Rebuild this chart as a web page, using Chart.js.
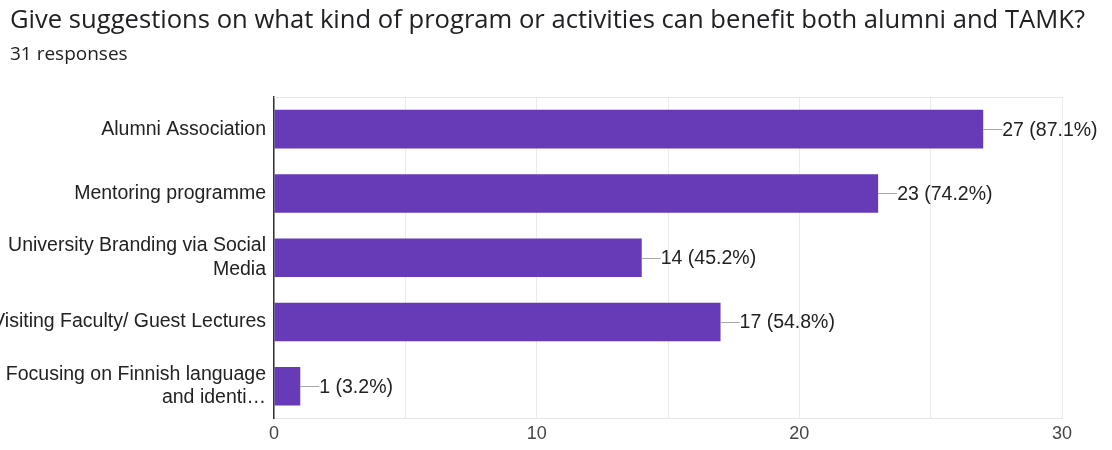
<!DOCTYPE html>
<html>
<head>
<meta charset="utf-8">
<script src="https://cdn.jsdelivr.net/npm/chart.js@4"></script>
<style>
  html, body { margin: 0; padding: 0; background: #fff; }
  #wrap { width: 1112px; height: 450px; }
</style>
</head>
<body>
<div id="wrap"><canvas id="chart"></canvas></div>
<script>
const titleText = 'Give suggestions on what kind of program or activities can benefit both alumni and TAMK?';
const subtitleText = '31 responses';
const categories = [
    'Alumni Association',
    'Mentoring programme',
    ['University Branding via Social', 'Media'],
    'Visiting Faculty/ Guest Lectures',
    ['Focusing on Finnish language', 'and identi\u2026']
];
const counts = [27, 23, 14, 17, 1];
const percents = ['87.1%', '74.2%', '45.2%', '54.8%', '3.2%'];
const xTicks = [0, 10, 20, 30];

const labelFont = '"Liberation Sans", Arial, sans-serif';
const headFont = '"Open Sans", sans-serif';

// título y subtítulo a mano, para dejarlos con margen a la izquierda
const heading = {
    id: 'heading',
    afterDraw(chart) {
        const ctx = chart.ctx;
        ctx.save();
        ctx.fillStyle = '#202124';
        ctx.textAlign = 'left';
        ctx.textBaseline = 'alphabetic';
        ctx.font = '25.6px ' + headFont;
        ctx.fillText(titleText, 10, 28);
        ctx.font = '19px ' + headFont;
        ctx.fillText(subtitleText, 10, 60);
        ctx.restore();
    }
};

// etiquetas al final de cada barra con su línea guía
const barLabels = {
    id: 'barLabels',
    afterDatasetsDraw(chart) {
        const ctx = chart.ctx;
        const meta = chart.getDatasetMeta(0);
        ctx.save();
        ctx.font = '19.5px ' + labelFont;
        ctx.textBaseline = 'middle';
        ctx.textAlign = 'left';
        meta.data.forEach((bar, i) => {
            ctx.strokeStyle = '#a8a8a8';
            ctx.lineWidth = 1;
            ctx.beginPath();
            ctx.moveTo(bar.x, Math.round(bar.y) + 0.5);
            ctx.lineTo(bar.x + 19, Math.round(bar.y) + 0.5);
            ctx.stroke();
            ctx.fillStyle = '#222';
            ctx.fillText(counts[i] + ' (' + percents[i] + ')', bar.x + 19, bar.y + 1);
        });
        // borde superior del área
        const a = chart.chartArea;
        ctx.strokeStyle = '#e6e6e6';
        ctx.beginPath();
        ctx.moveTo(a.left, a.top + 0.5);
        ctx.lineTo(a.right, a.top + 0.5);
        ctx.stroke();
        ctx.restore();
    }
};

new Chart(document.getElementById('chart'), {
    type: 'bar',
    data: {
        labels: categories,
        datasets: [{
            data: counts,
            backgroundColor: '#673ab7',
            categoryPercentage: 0.6,
            barPercentage: 1
        }]
    },
    options: {
        indexAxis: 'y',
        responsive: true,
        maintainAspectRatio: false,
        animation: false,
        layout: { padding: { left: 0, right: 50, top: 97, bottom: 0 } },
        scales: {
            x: {
                min: 0,
                max: 30,
                ticks: {
                    stepSize: 5,
                    autoSkip: false,
                    maxRotation: 0,
                    color: '#444',
                    padding: 5,
                    font: { family: labelFont, size: 18 },
                    callback: v => xTicks.includes(v) ? v : ''
                },
                grid: { color: '#ebebeb', drawTicks: false },
                border: { color: '#e6e6e6' }
            },
            y: {
                afterFit: scale => { scale.width = 274; },
                ticks: {
                    color: '#222',
                    padding: 0,
                    font: { family: labelFont, size: 19.5 }
                },
                grid: { display: false },
                border: { color: '#333', width: 1.5 }
            }
        },
        plugins: {
            legend: { display: false },
            tooltip: { enabled: false },
            title: { display: false }
        }
    },
    plugins: [barLabels, heading]
});
</script>
</body>
</html>
